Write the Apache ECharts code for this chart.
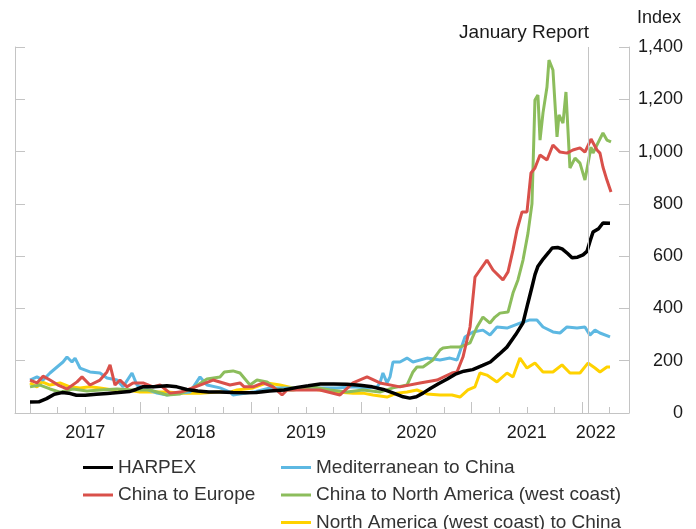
<!DOCTYPE html>
<html>
<head>
<meta charset="utf-8">
<script src="https://cdn.jsdelivr.net/npm/echarts@6/dist/echarts.min.js"></script>
<style>
  html, body { margin: 0; padding: 0; background: #fff; }
  #chart { width: 696px; height: 529px; }
</style>
</head>
<body>
<div id="chart"></div>
<script>
var dom = document.getElementById('chart');
var myChart = echarts.init(dom);

// [decimal year, index value]
var harpex = [
    [2017.000,42],[2017.080,43],[2017.150,55],[2017.220,72],[2017.290,78],[2017.350,76],[2017.420,68],
    [2017.500,68],[2017.600,72],[2017.700,75],[2017.800,78],[2017.900,82],[2017.960,90],[2018.020,100],
    [2018.120,100],[2018.240,104],[2018.330,100],[2018.420,90],[2018.520,84],[2018.620,80],[2018.720,80],
    [2018.840,78],[2018.950,77],[2019.050,78],[2019.170,84],[2019.300,88],[2019.420,98],[2019.520,104],
    [2019.630,111],[2019.750,111],[2019.870,110],[2019.990,106],[2020.100,100],[2020.200,90],[2020.300,75],
    [2020.380,62],[2020.440,57],[2020.500,62],[2020.560,76],[2020.630,95],[2020.700,112],[2020.780,130],
    [2020.860,150],[2020.930,160],[2021.010,166],[2021.100,182],[2021.170,195],[2021.250,225],[2021.320,252],
    [2021.400,300],[2021.466,345],[2021.510,420],[2021.547,482],[2021.575,530],[2021.600,560],[2021.650,590],
    [2021.700,615],[2021.730,631],[2021.780,633],[2021.820,628],[2021.870,610],[2021.910,594],[2021.960,596],
    [2022.010,605],[2022.045,618],[2022.075,660],[2022.100,692],[2022.150,705],[2022.190,727],[2022.254,726]
];

var chinaEurope = [
    [2017.000,126],[2017.063,115],[2017.118,141],[2017.181,126],[2017.254,107],[2017.335,92],[2017.426,119],
    [2017.471,138],[2017.543,107],[2017.634,126],[2017.697,157],[2017.725,184],[2017.770,107],[2017.815,126],
    [2017.879,100],[2017.933,115],[2018.024,115],[2018.114,100],[2018.178,107],[2018.268,76],[2018.359,80],
    [2018.422,88],[2018.540,107],[2018.658,126],[2018.812,107],[2018.902,115],[2018.940,100],[2019.020,100],
    [2019.111,115],[2019.201,100],[2019.283,69],[2019.328,88],[2019.473,88],[2019.627,88],[2019.808,69],
    [2019.926,115],[2020.053,138],[2020.170,115],[2020.351,100],[2020.533,115],[2020.687,126],[2020.822,153],
    [2020.868,157],[2020.922,214],[2020.986,329],[2021.031,520],[2021.076,547],[2021.139,585],[2021.194,547],
    [2021.284,509],[2021.330,540],[2021.375,623],[2021.411,700],[2021.457,769],[2021.502,769],[2021.538,918],
    [2021.574,937],[2021.620,987],[2021.683,968],[2021.737,1025],[2021.801,998],[2021.864,994],[2021.918,1006],
    [2021.982,1014],[2022.027,998],[2022.082,1048],[2022.136,1006],[2022.163,994],[2022.190,941],[2022.226,891],
    [2022.263,845]
];

var medChina = [
    [2017.000,126],[2017.063,138],[2017.118,126],[2017.181,153],[2017.245,176],[2017.299,195],[2017.335,214],
    [2017.380,195],[2017.408,210],[2017.453,172],[2017.543,157],[2017.634,153],[2017.697,134],[2017.788,126],
    [2017.842,100],[2017.924,153],[2017.969,107],[2018.024,96],[2018.150,76],[2018.241,69],[2018.359,76],
    [2018.449,80],[2018.540,138],[2018.603,107],[2018.721,96],[2018.812,80],[2018.839,69],[2019.020,80],
    [2019.174,96],[2019.328,96],[2019.473,96],[2019.627,96],[2019.781,96],[2019.926,100],[2020.053,96],
    [2020.143,100],[2020.170,115],[2020.197,153],[2020.234,115],[2020.261,138],[2020.288,195],[2020.351,195],
    [2020.415,210],[2020.469,195],[2020.596,210],[2020.714,203],[2020.804,210],[2020.868,203],[2020.940,291],
    [2021.013,310],[2021.103,317],[2021.167,298],[2021.230,329],[2021.321,325],[2021.438,344],[2021.529,356],
    [2021.592,356],[2021.647,329],[2021.737,310],[2021.801,306],[2021.864,329],[2021.955,325],[2022.027,329],
    [2022.072,298],[2022.118,317],[2022.163,306],[2022.254,291]
];

var chinaNAWest = [
    [2017.000,100],[2017.091,107],[2017.181,92],[2017.272,80],[2017.389,92],[2017.516,84],[2017.634,88],
    [2017.788,92],[2017.933,88],[2018.087,88],[2018.241,69],[2018.359,73],[2018.476,96],[2018.603,130],
    [2018.721,138],[2018.760,157],[2018.839,161],[2018.902,153],[2018.993,107],[2019.056,126],[2019.147,119],
    [2019.237,88],[2019.382,88],[2019.563,100],[2019.717,88],[2019.871,80],[2020.016,88],[2020.170,80],
    [2020.288,96],[2020.415,107],[2020.469,157],[2020.505,176],[2020.560,176],[2020.650,203],[2020.714,241],
    [2020.741,249],[2020.804,252],[2020.895,252],[2020.986,268],[2021.049,329],[2021.103,367],[2021.167,344],
    [2021.212,367],[2021.257,382],[2021.330,386],[2021.375,459],[2021.420,509],[2021.466,585],[2021.511,688],
    [2021.547,800],[2021.574,1197],[2021.601,1216],[2021.620,1044],[2021.647,1148],[2021.683,1247],
    [2021.701,1350],[2021.737,1312],[2021.774,1056],[2021.792,1140],[2021.828,1109],[2021.855,1228],
    [2021.891,937],[2021.937,975],[2021.982,956],[2022.027,891],[2022.082,1017],[2022.100,994],[2022.145,1033],
    [2022.190,1071],[2022.226,1044],[2022.263,1037]
];

var naWestChina = [
    [2017.000,115],[2017.063,100],[2017.109,119],[2017.181,107],[2017.272,115],[2017.362,100],[2017.453,96],
    [2017.543,100],[2017.634,96],[2017.752,88],[2017.879,88],[2017.996,80],[2018.114,80],[2018.241,80],
    [2018.386,76],[2018.540,76],[2018.694,80],[2018.812,80],[2018.875,88],[2019.020,96],[2019.147,115],
    [2019.264,107],[2019.382,96],[2019.509,96],[2019.627,88],[2019.781,80],[2019.926,76],[2020.016,76],
    [2020.107,69],[2020.234,61],[2020.324,76],[2020.415,80],[2020.505,88],[2020.596,73],[2020.714,69],
    [2020.822,69],[2020.895,61],[2020.967,88],[2021.031,100],[2021.076,153],[2021.139,145],[2021.230,119],
    [2021.321,153],[2021.375,138],[2021.438,210],[2021.502,172],[2021.574,191],[2021.647,157],[2021.737,157],
    [2021.819,184],[2021.891,153],[2021.982,153],[2022.054,191],[2022.118,172],[2022.163,157],[2022.226,176],
    [2022.254,176]
];

var yearTicks = [2017, 2018, 2019, 2020, 2021, 2022];
var quarterTicks = [2017.25, 2017.5, 2017.75, 2018.25, 2018.5, 2018.75, 2019.25, 2019.5, 2019.75,
    2020.25, 2020.5, 2020.75, 2021.25, 2021.5, 2021.75, 2022.25];
var yearLabelPos = [2017.5, 2018.5, 2019.5, 2020.5, 2021.5, 2022.125];
var reportDate = 2022.063;

var font = 'Liberation Sans, Arial, Helvetica, sans-serif';
var axisGrey = '#c4c4c4';

function line(name, data, color, width) {
    return {
        name: name,
        type: 'line',
        data: data,
        showSymbol: false,
        symbol: 'none',
        lineStyle: { color: color, width: width },
        itemStyle: { color: color },
        animation: false
    };
}

var legendText = { fontFamily: font, fontSize: 19, color: '#333', lineHeight: 18 };

var option = {
    backgroundColor: '#fff',
    textStyle: { fontFamily: font },
    title: {
        text: 'January Report',
        right: 107,
        top: 23,
        padding: 0,
        textStyle: { fontFamily: font, fontSize: 19, fontWeight: 'normal', color: '#1a1a1a' }
    },
    grid: { left: 15, right: 67, top: 47, bottom: 116 },
    xAxis: [
        {
            type: 'value',
            position: 'bottom',
            min: 2016.864,
            max: 2022.426,
            splitLine: { show: false },
            axisLine: { lineStyle: { color: axisGrey, width: 1 } },
            axisTick: { inside: true, length: 11, lineStyle: { color: axisGrey }, customValues: yearTicks },
            axisLabel: {
                customValues: yearLabelPos,
                formatter: function (v) { return String(Math.floor(v)); },
                fontSize: 18,
                color: '#1a1a1a',
                margin: 11,
                fontFamily: font
            }
        },
        {
            type: 'value',
            position: 'bottom',
            min: 2016.864,
            max: 2022.426,
            splitLine: { show: false },
            axisLine: { show: false },
            axisTick: { inside: true, length: 6, lineStyle: { color: axisGrey }, customValues: quarterTicks },
            axisLabel: { show: false }
        }
    ],
    yAxis: [
        {
            type: 'value',
            position: 'right',
            min: 0,
            max: 1400,
            interval: 200,
            name: 'Index',
            nameLocation: 'end',
            nameGap: 20,
            nameTextStyle: { fontFamily: font, fontSize: 18, color: '#1a1a1a', align: 'left', padding: [0, 0, 0, 8] },
            splitLine: { show: false },
            axisLine: { show: true, lineStyle: { color: axisGrey } },
            axisTick: { show: true, inside: true, length: 10, lineStyle: { color: axisGrey } },
            axisLabel: {
                align: 'right',
                margin: 54,
                fontSize: 18,
                color: '#1a1a1a',
                fontFamily: font,
                formatter: function (v) { return v.toLocaleString('en-US'); }
            }
        },
        {
            type: 'value',
            position: 'left',
            min: 0,
            max: 1400,
            interval: 200,
            splitLine: { show: false },
            axisLine: { show: true, lineStyle: { color: axisGrey } },
            axisTick: { show: true, inside: true, length: 10, lineStyle: { color: axisGrey } },
            axisLabel: { show: false }
        }
    ],
    legend: [
        {
            data: ['HARPEX', 'China to Europe'],
            orient: 'vertical',
            left: 83,
            top: 458,
            width: 180,
            height: 140,
            padding: 0,
            icon: 'rect',
            itemWidth: 30,
            itemHeight: 3,
            itemGap: 8.5,
            textStyle: legendText
        },
        {
            data: ['Mediterranean to China', 'China to North America (west coast)', 'North America (west coast) to China'],
            orient: 'vertical',
            left: 281,
            top: 458,
            width: 400,
            height: 140,
            padding: 0,
            icon: 'rect',
            itemWidth: 30,
            itemHeight: 3,
            itemGap: 8.5,
            textStyle: legendText
        }
    ],
    series: [
        line('North America (west coast) to China', naWestChina, '#ffd200', 3),
        line('Mediterranean to China', medChina, '#5db8e2', 3),
        line('China to North America (west coast)', chinaNAWest, '#8cbd5c', 3),
        line('China to Europe', chinaEurope, '#d9504a', 3),
        Object.assign(line('HARPEX', harpex, '#000000', 3.5), {
            markLine: {
                silent: true,
                symbol: 'none',
                label: { show: false },
                lineStyle: { color: axisGrey, width: 1, type: 'solid' },
                data: [{ xAxis: reportDate }]
            }
        })
    ]
};

myChart.setOption(option);
</script>
</body>
</html>
